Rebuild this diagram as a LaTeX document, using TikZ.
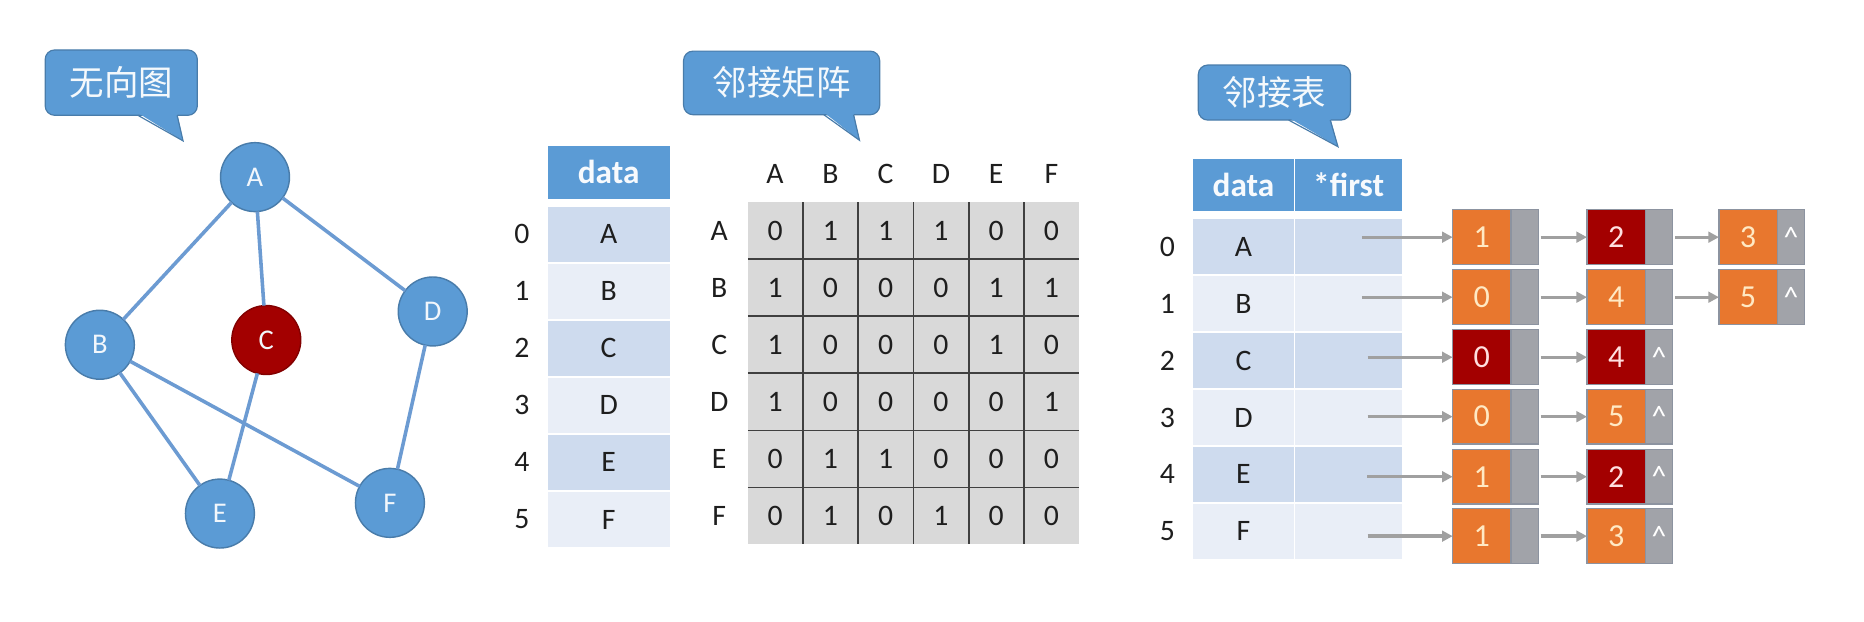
\documentclass[tikz,border=0pt]{standalone}
\usepackage{fontspec}
\setmainfont{Carlito}
\newfontfamily\cjk{Noto Sans CJK SC}
\usetikzlibrary{arrows.meta,positioning}
\definecolor{hblue}{HTML}{5B9BD5}
\definecolor{rowA}{HTML}{CEDBEE}
\definecolor{rowB}{HTML}{E9EEF7}
\definecolor{edgeblue}{HTML}{6C9BD2}
\definecolor{nodered}{HTML}{A30000}
\definecolor{lorange}{HTML}{E8772E}
\definecolor{lgray}{HTML}{A1A3A9}
\definecolor{mgray}{HTML}{D9D9D9}
\definecolor{arrgray}{HTML}{A0A0A0}
\definecolor{cream}{HTML}{FFE9C4}
\definecolor{txtdark}{HTML}{1E1E1E}
\definecolor{boxline}{HTML}{8C93A0}
\begin{document}
\begin{tikzpicture}[x=1pt,y=-1pt,
  every node/.style={inner sep=0pt, outer sep=0pt},
  gnode/.style={circle, minimum size=58pt, fill=hblue, draw=hblue!80!black, line width=1.2pt, text=white!92!hblue, font=\fontsize{24}{30}\selectfont},
  gedge/.style={edgeblue, line width=3pt},
  callbox/.style={fill=hblue, draw=hblue!80!black, line width=1pt, rounded corners=8pt},
  calltail/.style={draw=hblue!80!black, line width=1pt},
  calltext/.style={text=white!94!hblue, font=\cjk\fontsize{29}{34}\selectfont},
  hcell/.style={fill=hblue, draw=white, line width=1.5pt, text=white!95!hblue, font=\bfseries\fontsize{28}{32}\selectfont},
  dcell/.style={draw=white, line width=1.5pt, text=txtdark, font=\fontsize{25}{30}\selectfont},
  plain/.style={text=txtdark, font=\fontsize{25}{30}\selectfont},
  gridline/.style={draw=black!75, line width=1.4pt},
  lval/.style={minimum width=49pt, minimum height=46pt, fill=lorange, draw=boxline, line width=1pt, text=cream, font=\fontsize{27}{32}\selectfont},
  lred/.style={lval, fill=nodered, text=white!88!red},
  lptr/.style={minimum width=23pt, minimum height=46pt, fill=lgray, draw=boxline, line width=1pt, text=white, font=\fontsize{25}{30}\selectfont, anchor=west},
  larrow/.style={arrgray, line width=2.8pt, -{Triangle[length=9pt,width=9pt]}}
]
\useasboundingbox (0,0) rectangle (1568,523);

% ---------- callouts ----------
\draw[callbox] (38,42) rectangle (166,97);
\fill[hblue] (116,95) -- (149,95) -- (154,118.5) -- cycle;
\draw[calltail] (116,97) -- (154,118.5) -- (149,97);
\node[calltext] (c1) at (102,69.5) {无向图};

\draw[callbox] (575,43) rectangle (740,96.5);
\fill[hblue] (693,94.5) -- (718,94.5) -- (723,118) -- cycle;
\draw[calltail] (693,96.5) -- (723,118) -- (718,96.5);
\node[calltext] (c2) at (657.5,69.5) {邻接矩阵};

\draw[callbox] (1008,54.7) rectangle (1136,101);
\fill[hblue] (1084,99) -- (1119,99) -- (1125.5,123.4) -- cycle;
\draw[calltail] (1084,101) -- (1125.5,123.4) -- (1119,101);
\node[calltext] (c3) at (1072,77.8) {邻接表};

% ---------- graph ----------
\node[gnode] (A) at (214.5,149) {A};
\node[gnode] (B) at (84,290) {B};
\node[gnode, fill=nodered, draw=nodered!80!black] (C) at (224,286) {C};
\node[gnode] (D) at (364,262) {D};
\node[gnode] (E) at (185,432) {E};
\node[gnode] (F) at (328,423) {F};
\draw[gedge] (A) -- (B);
\draw[gedge] (A) -- (C);
\draw[gedge] (A) -- (D);
\draw[gedge] (B) -- (E);
\draw[gedge] (B) -- (F);
\draw[gedge] (C) -- (E);
\draw[gedge] (D) -- (F);

% ---------- vertex table ----------
\node[hcell, minimum width=104pt, minimum height=46pt] (t1h) at (512,145) {data};
\foreach \i/\l/\c in {0/A/rowA,1/B/rowB,2/C/rowA,3/D/rowB,4/E/rowA,5/F/rowB}{
  \node[dcell, fill=\c, minimum width=104pt, minimum height=48pt] (t1r\i) at (512,{197+48*\i}) {\l};
  \node[plain] (t1i\i) at (439,{197+48*\i}) {\i};
}

% ---------- adjacency matrix ----------
\fill[mgray] (629,170) rectangle (908,457.5);
\foreach \k in {1,...,5}{
  \draw[gridline] ({629+46.5*\k},170) -- ({629+46.5*\k},457.5);
  \draw[gridline] (629,{170+48*\k}) -- (908,{170+48*\k});
}
\foreach \c/\l in {0/A,1/B,2/C,3/D,4/E,5/F}{
  \node[plain] (mc\c) at ({652+46.5*\c},146) {\l};
  \node[plain] (mr\c) at (605,{194+48*\c}) {\l};
}
\foreach \r/\row in {0/{0,1,1,1,0,0},1/{1,0,0,0,1,1},2/{1,0,0,0,1,0},3/{1,0,0,0,0,1},4/{0,1,1,0,0,0},5/{0,1,0,1,0,0}}{
  \foreach \v [count=\c from 0] in \row {
    \node[plain] (m\r\c) at ({652+46.5*\c},{194+48*\r}) {\v};
  }
}

% ---------- adjacency list table ----------
\node[hcell, minimum width=86pt, minimum height=45pt] (t3hd) at (1046,155.5) {data};
\node[hcell, minimum width=91pt, minimum height=45pt] (t3hf) at (1134.5,155.5) {*first};
\foreach \i/\l/\c in {0/A/rowA,1/B/rowB,2/C/rowA,3/D/rowB,4/E/rowA,5/F/rowB}{
  \node[dcell, fill=\c, minimum width=86pt, minimum height=47.9pt] (t3d\i) at (1046,{207.5+47.9*\i}) {\l};
  \node[dcell, fill=\c, minimum width=91pt, minimum height=47.9pt] (t3f\i) at (1134.5,{207.5+47.9*\i}) {};
  \node[plain] (t3i\i) at (982,{207.5+47.9*\i}) {\i};
}

% ---------- edge lists ----------
% row 0
\node[lval] (v00) at (1246.5,199.5) {1};
\node[lptr] (p00) at (v00.east) {};
\node[lred] (v01) at (1359.5,199.5) {2};
\node[lptr] (p01) at (v01.east) {};
\node[lval] (v02) at (1470.5,199.5) {3};
\node[lptr] (p02) at (v02.east) {\textasciicircum};
% row 1
\node[lval] (v10) at (1246.5,250) {0};
\node[lptr] (p10) at (v10.east) {};
\node[lval] (v11) at (1359.5,250) {4};
\node[lptr] (p11) at (v11.east) {};
\node[lval] (v12) at (1470.5,250) {5};
\node[lptr] (p12) at (v12.east) {\textasciicircum};
% row 2
\node[lred] (v20) at (1246.5,300.5) {0};
\node[lptr] (p20) at (v20.east) {};
\node[lred] (v21) at (1359.5,300.5) {4};
\node[lptr] (p21) at (v21.east) {\textasciicircum};
% row 3
\node[lval] (v30) at (1246.5,350.5) {0};
\node[lptr] (p30) at (v30.east) {};
\node[lval] (v31) at (1359.5,350.5) {5};
\node[lptr] (p31) at (v31.east) {\textasciicircum};
% row 4
\node[lval] (v40) at (1246.5,401) {1};
\node[lptr] (p40) at (v40.east) {};
\node[lred] (v41) at (1359.5,401) {2};
\node[lptr] (p41) at (v41.east) {\textasciicircum};
% row 5
\node[lval] (v50) at (1246.5,451) {1};
\node[lptr] (p50) at (v50.east) {};
\node[lval] (v51) at (1359.5,451) {3};
\node[lptr] (p51) at (v51.east) {\textasciicircum};

\coordinate (s0) at (1145.5,199.5);
\coordinate (s1) at (1145.5,250);
\coordinate (s2) at (1150.5,300.5);
\coordinate (s3) at (1150.5,350.5);
\coordinate (s4) at (1150,401);
\coordinate (s5) at (1150.5,451);
\foreach \r in {0,...,5}{
  \draw[larrow] (s\r) -- (v\r0);
  \draw[larrow, shorten <=2pt] (p\r0) -- (v\r1);
}
\draw[larrow, shorten <=2pt] (p01) -- (v02);
\draw[larrow, shorten <=2pt] (p11) -- (v12);
\end{tikzpicture}
\end{document}
